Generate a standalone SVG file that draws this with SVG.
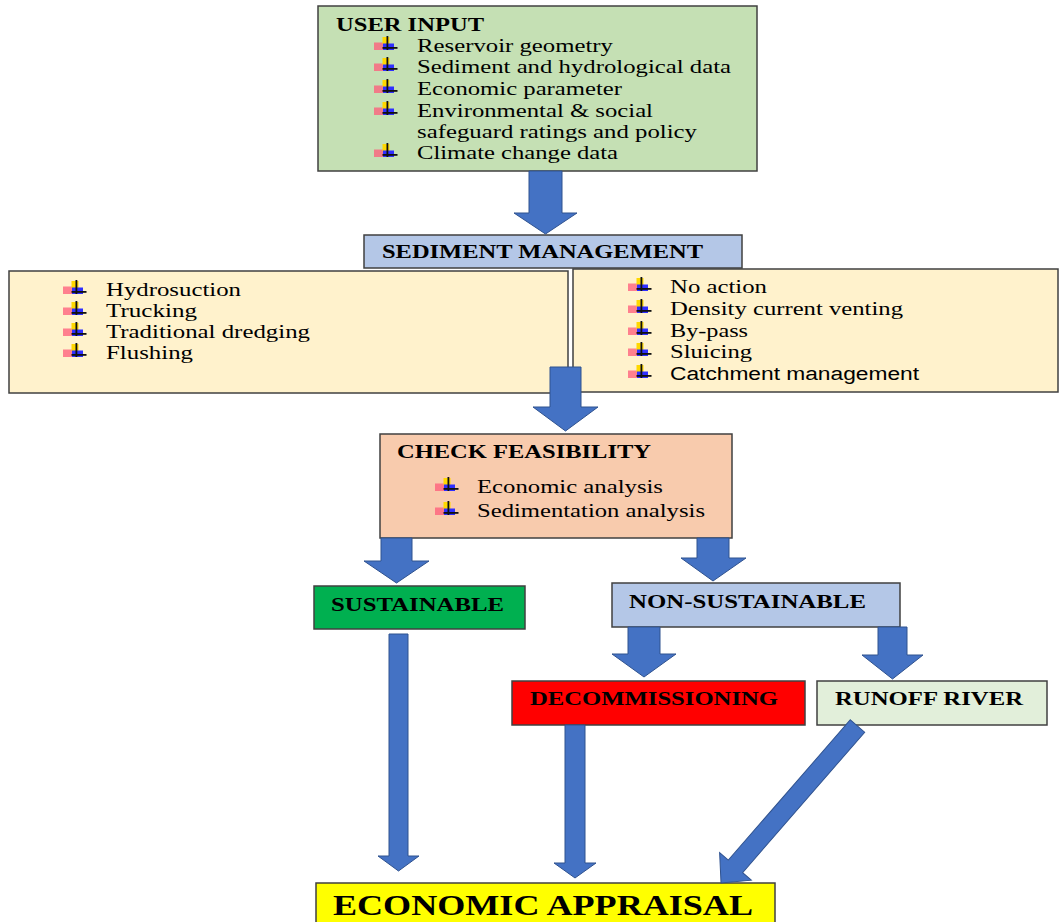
<svg xmlns="http://www.w3.org/2000/svg" xmlns:xlink="http://www.w3.org/1999/xlink" width="1060" height="922" viewBox="0 0 1060 922">
<style>
.box{stroke:#404040;stroke-width:1.5}
.t{font-family:"Liberation Serif","Times New Roman",serif;fill:#000}
.h{font-weight:bold;font-size:19.5px}
.i{font-size:18.5px}
.s{font-family:"Liberation Sans",Arial,sans-serif;font-size:18px;fill:#000}
.b{font-weight:bold;font-size:18px}
.arr{fill:#4472c4;stroke:#2f528f;stroke-width:1}
</style>
<defs>
<g id="bul">
<rect x="-1" y="-9.5" width="10" height="7.5" fill="#ff5a7a" opacity="0.75"/>
<rect x="7.5" y="-15" width="7" height="7" fill="#ffd800"/>
<rect x="8" y="-8.5" width="11" height="6.5" fill="#2f2fff"/>
<rect x="11.5" y="-16" width="1.8" height="14" fill="#111"/>
<rect x="7.5" y="-5" width="15" height="1.8" fill="#111"/>
</g>
</defs>
<rect width="1060" height="922" fill="#fff"/>
<g id="nodes">
<g id="user-input">
<rect class="box" x="318" y="6" width="439" height="165" fill="#c5e0b4"/>
<text class="t h" x="336" y="31" textLength="148" lengthAdjust="spacingAndGlyphs">USER INPUT</text>
<use xlink:href="#bul" x="375" y="52"/>
<use xlink:href="#bul" x="375" y="73"/>
<use xlink:href="#bul" x="375" y="95"/>
<use xlink:href="#bul" x="375" y="117"/>
<use xlink:href="#bul" x="375" y="159"/>
<text class="t i" x="417" y="52" textLength="196" lengthAdjust="spacingAndGlyphs">Reservoir geometry</text>
<text class="t i" x="417" y="73" textLength="314" lengthAdjust="spacingAndGlyphs">Sediment and hydrological data</text>
<text class="t i" x="417" y="95" textLength="205" lengthAdjust="spacingAndGlyphs">Economic parameter</text>
<text class="t i" x="417" y="117" textLength="236" lengthAdjust="spacingAndGlyphs">Environmental &amp; social</text>
<text class="t i" x="417" y="138" textLength="280" lengthAdjust="spacingAndGlyphs">safeguard ratings and policy</text>
<text class="t i" x="417" y="159" textLength="201" lengthAdjust="spacingAndGlyphs">Climate change data</text>
</g>
<g id="sediment-management">
<rect class="box" x="364" y="235" width="378" height="33" fill="#b4c7e7"/>
<text class="t h" x="382" y="258" textLength="321" lengthAdjust="spacingAndGlyphs">SEDIMENT MANAGEMENT</text>
</g>
<g id="methods-left">
<rect class="box" x="9" y="271" width="559" height="122" fill="#fff2cc"/>
<use xlink:href="#bul" x="64" y="296"/>
<use xlink:href="#bul" x="64" y="317"/>
<use xlink:href="#bul" x="64" y="338"/>
<use xlink:href="#bul" x="64" y="359"/>
<text class="t i" x="106" y="296" textLength="135" lengthAdjust="spacingAndGlyphs">Hydrosuction</text>
<text class="t i" x="106" y="317" textLength="91" lengthAdjust="spacingAndGlyphs">Trucking</text>
<text class="t i" x="106" y="338" textLength="204" lengthAdjust="spacingAndGlyphs">Traditional dredging</text>
<text class="t i" x="106" y="359" textLength="87" lengthAdjust="spacingAndGlyphs">Flushing</text>
</g>
<g id="methods-right">
<rect class="box" x="573" y="269" width="485" height="123" fill="#fff2cc"/>
<use xlink:href="#bul" x="629" y="293"/>
<use xlink:href="#bul" x="629" y="315"/>
<use xlink:href="#bul" x="629" y="337"/>
<use xlink:href="#bul" x="629" y="358"/>
<use xlink:href="#bul" x="629" y="380"/>
<text class="t i" x="670" y="293" textLength="97" lengthAdjust="spacingAndGlyphs">No action</text>
<text class="t i" x="670" y="315" textLength="233" lengthAdjust="spacingAndGlyphs">Density current venting</text>
<text class="t i" x="670" y="337" textLength="78" lengthAdjust="spacingAndGlyphs">By-pass</text>
<text class="t i" x="670" y="358" textLength="82" lengthAdjust="spacingAndGlyphs">Sluicing</text>
<text class="s" x="670" y="380" textLength="249" lengthAdjust="spacingAndGlyphs">Catchment management</text>
</g>
<g id="check-feasibility">
<rect class="box" x="380" y="434" width="352" height="104" fill="#f8cbad"/>
<text class="t h" x="397" y="458" textLength="254" lengthAdjust="spacingAndGlyphs">CHECK FEASIBILITY</text>
<use xlink:href="#bul" x="436" y="493"/>
<use xlink:href="#bul" x="436" y="517"/>
<text class="t i" x="477" y="493" textLength="186" lengthAdjust="spacingAndGlyphs">Economic analysis</text>
<text class="t i" x="477" y="517" textLength="228" lengthAdjust="spacingAndGlyphs">Sedimentation analysis</text>
</g>
<g id="sustainable">
<rect class="box" x="314" y="586" width="211" height="43" fill="#00b050"/>
<text class="t b" x="331" y="611" textLength="173" lengthAdjust="spacingAndGlyphs">SUSTAINABLE</text>
</g>
<g id="non-sustainable">
<rect class="box" x="612" y="583" width="288" height="44" fill="#b4c7e7"/>
<text class="t b" x="629" y="608" textLength="237" lengthAdjust="spacingAndGlyphs">NON-SUSTAINABLE</text>
</g>
<g id="decommissioning">
<rect class="box" x="512" y="681" width="293" height="44" fill="#ff0000"/>
<text class="t b" x="530" y="705" textLength="248" lengthAdjust="spacingAndGlyphs">DECOMMISSIONING</text>
</g>
<g id="runoff-river">
<rect class="box" x="817" y="681" width="230" height="44" fill="#e2efda"/>
<text class="t b" x="835" y="705" textLength="188" lengthAdjust="spacingAndGlyphs">RUNOFF RIVER</text>
</g>
<g id="economic-appraisal">
<rect class="box" x="316" y="883" width="459" height="50" fill="#ffff00"/>
<text class="t" x="333" y="915" font-size="29" font-weight="bold" textLength="420" lengthAdjust="spacingAndGlyphs">ECONOMIC APPRAISAL</text>
</g>
</g>
<g id="connectors">
<polygon class="arr" points="529,171 562,171 562,213 577,213 545.5,234 514,213 529,213"/>
<polygon class="arr" points="550,367 581,367 581,407 598,407 565.5,431 533,407 550,407"/>
<polygon class="arr" points="381,538 412,538 412,561 429,561 396.5,583 364,561 381,561"/>
<polygon class="arr" points="697,538 729,538 729,558 746,558 713,581 681,558 697,558"/>
<polygon class="arr" points="628,627 660,627 660,654 676,654 644,677 612,654 628,654"/>
<polygon class="arr" points="878,627 907,627 907,655 923,655 892.5,679 862,655 878,655"/>
<polygon class="arr" points="389,634 408,634 408,856 419,856 398.5,871 378,856 389,856"/>
<polygon class="arr" points="565,725 585,725 585,863 596,863 575,878 554,863 565,863"/>
<polygon class="arr" transform="translate(857.5,726) rotate(41)" points="-9.5,0 9.5,0 9.5,186 21,186 0,208 -21,186 -9.5,186"/>
</g>
</svg>
